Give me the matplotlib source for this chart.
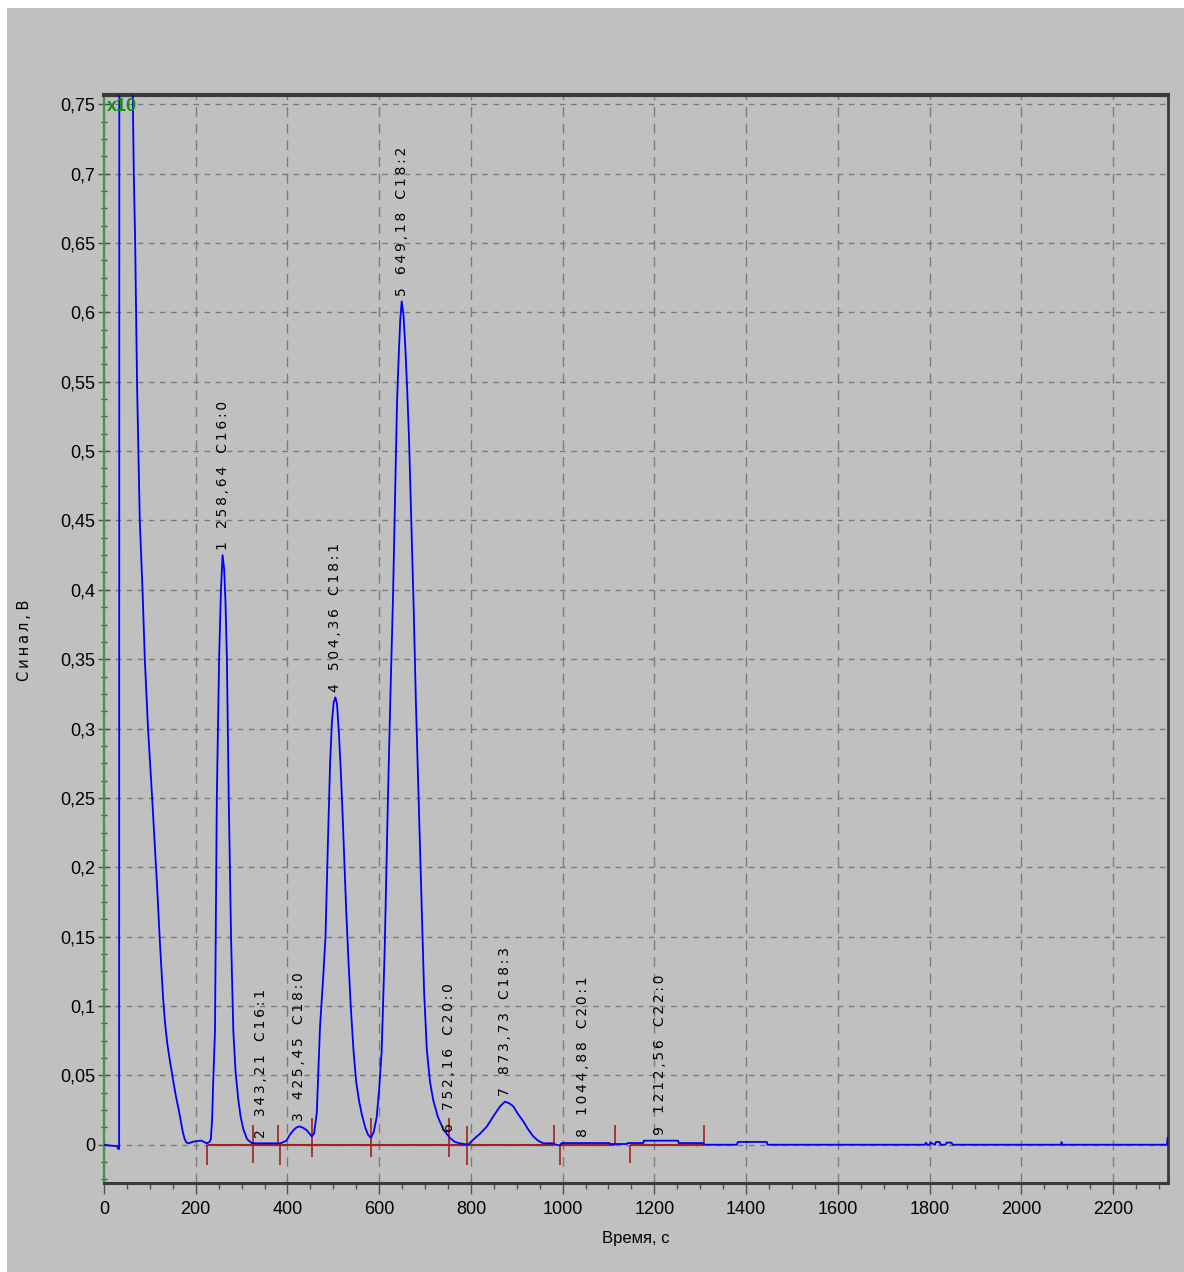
import matplotlib
matplotlib.use("Agg")
import matplotlib.pyplot as plt
from matplotlib import font_manager
from matplotlib.patches import Rectangle
from matplotlib.ticker import MultipleLocator, FuncFormatter

# chromatogram trace (time, s / signal, V)
TRACE_T = [
    0, 10, 28, 31, 33, 33.5, 62, 63, 65, 68, 72, 78, 84, 89, 96, 105, 111, 116,
    122, 126, 129, 133, 138, 143, 148, 153, 158, 163, 168, 172, 176, 180, 186, 192,
    200, 212, 218, 224, 230, 233, 236, 238, 242, 246, 251, 255, 258.6, 262, 265,
    268, 272, 277, 282, 287, 293, 298, 304, 312, 322, 330, 370, 385, 398, 405, 413,
    420, 427, 435, 442, 448, 453, 458, 464, 471, 478, 483, 488, 493, 497, 501,
    504.4, 508, 512, 516, 520, 524, 528, 533, 538, 544, 550, 556, 562, 570, 576,
    582, 588, 594.6, 600, 605.5, 612, 619, 625, 630, 635, 639, 643, 646, 649.2,
    653, 657, 661, 665, 670, 675, 680, 686, 692, 698, 704, 711, 718, 728, 740, 754,
    765, 776, 794, 805, 820, 834.5, 850, 863.5, 874, 883, 892.6, 903, 914, 925,
    936, 946, 958, 980, 985, 994, 998, 1102, 1104, 1140, 1142, 1176, 1177, 1252,
    1253, 1306, 1310, 1380, 1382, 1445, 1447, 1790, 1792, 1795, 1800, 1802, 1812,
    1814, 1822, 1824, 1835, 1837, 1848, 1850, 2086, 2088, 2090, 2318, 2319, 2320,
]
TRACE_V = [
    0.0, -0.0005, -0.001, -0.003, -0.003, 0.9, 0.9, 0.75, 0.70, 0.65, 0.55, 0.45,
    0.40, 0.35, 0.30, 0.25, 0.215, 0.185, 0.145, 0.122, 0.105, 0.088, 0.073,
    0.062, 0.052, 0.042, 0.033, 0.025, 0.016, 0.009, 0.004, 0.0015, 0.001, 0.002,
    0.0025, 0.003, 0.002, 0.001, 0.002, 0.004, 0.02, 0.044, 0.082, 0.25, 0.35,
    0.40, 0.425, 0.415, 0.39, 0.35, 0.25, 0.15, 0.082, 0.052, 0.032, 0.02, 0.011,
    0.004, 0.0012, 0.001, 0.001, 0.001, 0.003, 0.007, 0.0105, 0.0125, 0.0132,
    0.012, 0.0105, 0.008, 0.006, 0.008, 0.023, 0.085, 0.121, 0.15, 0.215, 0.275,
    0.305, 0.319, 0.3225, 0.318, 0.298, 0.272, 0.24, 0.205, 0.17, 0.133, 0.10,
    0.068, 0.045, 0.032, 0.022, 0.012, 0.007, 0.005, 0.009, 0.02, 0.04, 0.068,
    0.14, 0.248, 0.33, 0.392, 0.47, 0.536, 0.572, 0.595, 0.608, 0.598, 0.575,
    0.545, 0.51, 0.45, 0.39, 0.32, 0.25, 0.18, 0.11, 0.068, 0.045, 0.032, 0.02,
    0.011, 0.005, 0.002, 0.001, 0.0, 0.0036, 0.008, 0.013, 0.021, 0.0276, 0.031,
    0.030, 0.0276, 0.022, 0.017, 0.011, 0.006, 0.003, 0.001, 0.001, 0.0, -0.0005,
    0.0012, 0.0012, 0.0005, 0.0005, 0.0012, 0.0012, 0.0029, 0.0029, 0.0012,
    0.0012, 0.0, 0.0, 0.002, 0.002, 0.0, 0.0, 0.0015, 0.0, 0.0, 0.0015, 0.0,
    0.002, 0.002, 0.0, 0.0, 0.0015, 0.0015, 0.0, 0.0, 0.002, 0.0, 0.0, 0.005,
    0.005,
]

# peak annotations
PEAK_NUM = ["1", "2", "3", "4", "5", "6", "7", "8", "9"]
PEAK_RT = [258.64, 343.21, 425.45, 504.36, 649.18, 752.16, 873.73, 1044.88, 1212.56]
PEAK_H = [0.425, 0.001, 0.0132, 0.3225, 0.608, 0.005, 0.031, 0.0012, 0.0029]
PEAK_NAME = ["C16:0", "C16:1", "C18:0", "C18:1", "C18:2", "C20:0", "C18:3", "C20:1", "C22:0"]

# integration baseline segments and their markers
BASE_SEG = [(224, 981), (994, 1115), (1146, 1308)]
MARK_T = [224, 324, 379, 384, 453, 583, 753, 792, 981, 994, 1115, 1146, 1308]
MARK_LO = [-0.0144, -0.013, 0.0, -0.0144, -0.009, -0.009, -0.009, -0.0144, 0.0, -0.0144, 0.0, -0.013, 0.0]
MARK_HI = [0.0, 0.0144, 0.0144, 0.0, 0.019, 0.019, 0.019, 0.0133, 0.0144, 0.0, 0.0144, 0.0, 0.0144]

BG = "#C0C0C0"
_names = {f.name for f in font_manager.fontManager.ttflist}
NARROW = "Liberation Sans Narrow" if "Liberation Sans Narrow" in _names else "Liberation Sans"
THIN = "\u2009"

plt.rcParams["font.family"] = [NARROW, "DejaVu Sans"]


def spaced(word):
    # letter spacing like the original software output
    return THIN.join(word)


def fmt_comma(v, pos):
    s = f"{v:.3f}".rstrip("0").rstrip(".")
    if s == "-0":
        s = "0"
    return s.replace(".", ",")


def main():
    fig = plt.figure(figsize=(11.84, 12.72), dpi=100, facecolor=BG)

    # white strips at the top and left edge of the screenshot
    fig.patches.append(Rectangle((0, 1 - 8 / 1272), 1, 8 / 1272, transform=fig.transFigure,
                                 facecolor="white", edgecolor="none", zorder=0))
    fig.patches.append(Rectangle((0, 0), 7 / 1184, 1, transform=fig.transFigure,
                                 facecolor="white", edgecolor="none", zorder=0))

    ax = fig.add_axes([104 / 1184, 1 - 1183 / 1272, 1064 / 1184, 1088 / 1272])
    ax.set_facecolor(BG)

    ax.set_xlim(0, 2320)
    ax.set_ylim(-0.0276, 0.7567)

    ax.xaxis.set_major_locator(MultipleLocator(200))
    ax.xaxis.set_minor_locator(MultipleLocator(50))
    ax.yaxis.set_major_locator(MultipleLocator(0.05))
    ax.yaxis.set_minor_locator(MultipleLocator(0.0125))
    ax.yaxis.set_major_formatter(FuncFormatter(fmt_comma))

    ax.grid(True, which="major", axis="x", color="#7A7A7A", linestyle=(0, (7, 5)), linewidth=1.0)
    ax.grid(True, which="major", axis="y", color="#7A7A7A", linestyle=(0, (4, 4)), linewidth=1.0)
    ax.set_axisbelow(True)

    ax.tick_params(axis="x", which="major", direction="out", length=8, width=1, color="#505050",
                   pad=5, labelsize=13)
    ax.tick_params(axis="x", which="minor", direction="out", length=4, width=1, color="#505050")
    ax.tick_params(axis="y", which="major", direction="inout", length=9, width=1, color="#505050",
                   pad=2, labelsize=13)
    ax.tick_params(axis="y", which="minor", direction="inout", length=4, width=1, color="#505050")

    ax.spines["top"].set_color("#3A3A3A")
    ax.spines["top"].set_linewidth(3)
    ax.spines["right"].set_color("#3A3A3A")
    ax.spines["right"].set_linewidth(2)
    ax.spines["bottom"].set_color("#3A3A3A")
    ax.spines["bottom"].set_linewidth(2.2)
    ax.spines["left"].set_color("#3E9A3E")
    ax.spines["left"].set_linewidth(1.6)

    # baseline and peak markers
    for a, b in BASE_SEG:
        ax.hlines(0, a, b, color="#A32020", linewidth=1.5, zorder=3)
    ax.vlines(MARK_T, MARK_LO, MARK_HI, color="#A32020", linewidth=1.2, zorder=3)

    ax.plot(TRACE_T, TRACE_V, color="#0000FF", linewidth=1.3, zorder=4)

    for num, rt, h, name in zip(PEAK_NUM, PEAK_RT, PEAK_H, PEAK_NAME):
        rt_txt = f"{rt:.2f}".replace(".", ",")
        label = spaced(num) + "   " + spaced(rt_txt) + "   " + spaced(name)
        ax.annotate(label, (rt, h), xytext=(0, 4), textcoords="offset points",
                    rotation=90, ha="center", va="bottom", fontsize=10,
                    family="DejaVu Sans", color="black", zorder=5)

    ax.text(0.003, 0.997, "x10", transform=ax.transAxes, ha="left", va="top",
            color="#108A10", fontsize=13, fontweight="bold", zorder=6)

    fig.text(25 / 1184, 1 - 640 / 1272, spaced("Синал,") + " " + "В", rotation=90,
             ha="center", va="center", fontsize=10.5, family="DejaVu Sans")
    fig.text(636 / 1184, 1 - 1238 / 1272, "Время, с", ha="center", va="center",
             fontsize=12)

    fig.savefig("out.png", dpi=100, facecolor=BG)
    plt.close(fig)


if __name__ == "__main__":
    main()
